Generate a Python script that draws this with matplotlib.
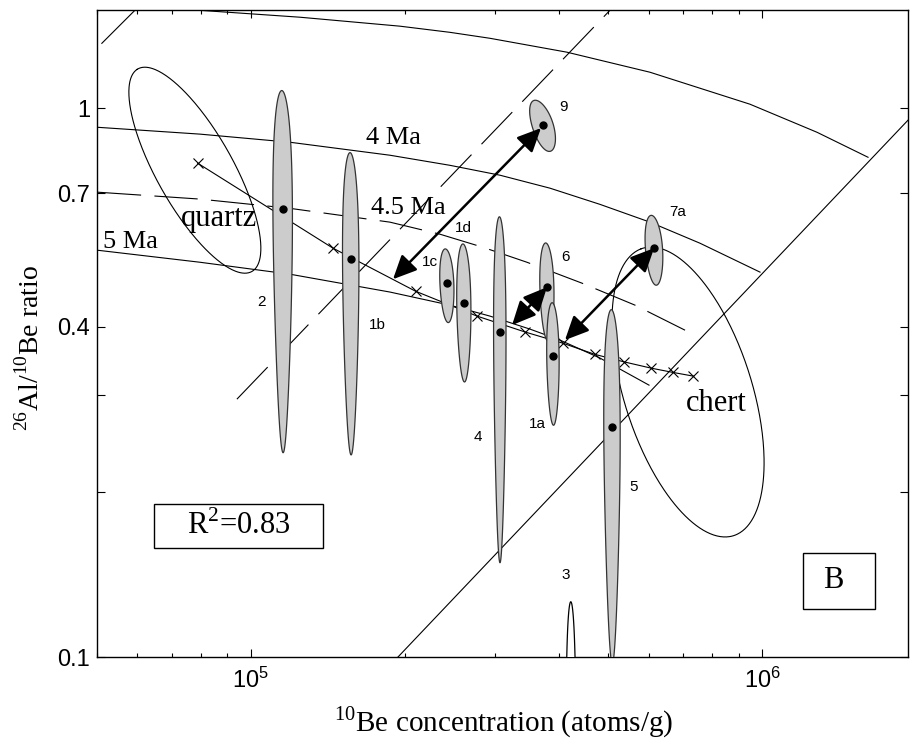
import matplotlib
matplotlib.use("Agg")
import matplotlib.pyplot as plt
import numpy as np
from matplotlib.patches import Rectangle
from matplotlib.ticker import FixedLocator, NullFormatter, FuncFormatter

plt.rcParams['font.family'] = ['Liberation Serif', 'DejaVu Serif']
plt.rcParams['mathtext.fontset'] = 'custom'
plt.rcParams['mathtext.rm'] = 'Liberation Serif'
plt.rcParams['mathtext.sf'] = 'Liberation Sans'

# --- samples: 10Be (atoms/g), 26Al/10Be ratio, relative 1-sigma errors
sample_names = ['2', '1b', '1c', '1d', '4', '6', '1a', '5', '9', '7a', '3']
sample_be = [1.155e5, 1.569e5, 2.419e5, 2.611e5, 3.07e5, 3.796e5, 3.90e5, 5.09e5, 3.727e5, 6.15e5, 4.23e5]
sample_ratio = [0.655, 0.531, 0.480, 0.441, 0.391, 0.472, 0.353, 0.263, 0.931, 0.556, 0.07]
sample_be_err = [0.044, 0.037, 0.032, 0.032, 0.028, 0.032, 0.028, 0.037, 0.058, 0.040, 0.022]
sample_al_err = [0.64, 0.56, 0.15, 0.28, 0.62, 0.20, 0.25, 0.63, 0.09, 0.14, 0.80]
# label positions (x, ratio) for each sample number
label_x = [1.051e5, 1.764e5, 2.240e5, 2.600e5, 2.782e5, 4.134e5, 3.643e5, 5.617e5, 4.08e5, 6.85e5, 4.134e5]
label_y = [0.443, 0.4025, 0.524, 0.604, 0.2516, 0.5353, 0.2658, 0.204, 1.004, 0.6465, 0.141]

# --- burial isochrons (4, 4.5, 5 Ma) and upper curve
top_x = [7.95e4, 1.247e5, 1.956e5, 2.451e5, 2.936e5, 4.153e5, 6.036e5, 9.47e5, 1.281e6, 1.612e6]
top_y = [1.508, 1.465, 1.411, 1.375, 1.341, 1.265, 1.163, 1.017, 0.904, 0.814]
ma4_x = [5.02e4, 7.95e4, 1.192e5, 1.871e5, 2.451e5, 3.071e5, 3.847e5, 4.82e5, 6.036e5, 7.56e5, 9.91e5]
ma4_y = [0.923, 0.897, 0.867, 0.821, 0.787, 0.755, 0.715, 0.668, 0.620, 0.5676, 0.5027]
ma45_x = [5.02e4, 7.95e4, 1.192e5, 1.871e5, 2.344e5, 2.844e5, 3.468e5, 4.443e5, 5.642e5, 7.07e5]
ma45_y = [0.703, 0.683, 0.657, 0.620, 0.5894, 0.558, 0.524, 0.480, 0.4377, 0.394]
ma5_x = [5.02e4, 7.95e4, 1.192e5, 1.871e5, 2.451e5, 2.936e5, 3.516e5, 4.024e5, 4.82e5, 6.01e5]
ma5_y = [0.551, 0.524, 0.4984, 0.4624, 0.4377, 0.418, 0.3958, 0.378, 0.3505, 0.3129]

# --- model line with x markers
model_x = [7.87e4, 1.447e5, 2.10e5, 2.77e5, 3.44e5, 4.08e5, 4.71e5, 5.37e5, 6.07e5, 6.70e5, 7.33e5]
model_y = [0.794, 0.556, 0.464, 0.418, 0.391, 0.373, 0.356, 0.345, 0.336, 0.330, 0.325]

# --- straight diagonal lines
diag_solid_x = [1.94e5, 1.93e6]
diag_solid_y = [0.1, 0.951]
diag_dash_x = [9.39e4, 5.04e5]
diag_dash_y = [0.295, 1.508]
diag_dash2_x = [5.11e4, 5.93e4]
diag_dash2_y = [1.313, 1.508]

# --- quartz / chert fields (log-space ellipse: centre, semi-axes in decades, angle)
quartz_field = (7.77e4, 0.771, 0.2157, 0.0733, 121.6)
chert_field = (7.165e5, 0.304, 0.2766, 0.1241, 109.4)

# --- paired samples (double arrows)
arrow_start = [(3.694e5, 0.920), (3.796e5, 0.472), (6.15e5, 0.556)]
arrow_end = [(1.897e5, 0.488), (3.243e5, 0.4025), (4.116e5, 0.378)]


def spindle(be, ratio, eb, ea, n=600):
    t = np.linspace(0, 2 * np.pi, n)
    be_v = be * (1 + eb * np.cos(t))
    al_v = be * ratio * (1 + ea * np.sin(t))
    return be_v, al_v / be_v


def log_ellipse(xc, yc, a, b, ang, n=400):
    t = np.linspace(0, 2 * np.pi, n)
    th = np.deg2rad(ang)
    u = a * np.cos(t) * np.cos(th) - b * np.sin(t) * np.sin(th)
    v = a * np.cos(t) * np.sin(th) + b * np.sin(t) * np.cos(th)
    return xc * 10 ** u, yc * 10 ** v


fig = plt.figure(figsize=(9.1, 7.46), dpi=100)
ax = fig.add_axes([97 / 910, 89 / 746, 811 / 910, 647 / 746])
ax.set_xscale('log')
ax.set_yscale('log')
ax.set_xlim(5.0e4, 1.93e6)
ax.set_ylim(0.1, 1.51)

lw = 0.8
ax.plot(top_x, top_y, color='k', lw=lw)
ax.plot(ma4_x, ma4_y, color='k', lw=lw)
ax.plot(ma45_x, ma45_y, color='k', lw=lw, linestyle=(0, (39, 12)))
ax.plot(ma5_x, ma5_y, color='k', lw=lw)
ax.plot(diag_solid_x, diag_solid_y, color='k', lw=lw)
ax.plot(diag_dash_x, diag_dash_y, color='k', lw=lw, linestyle=(0, (40, 13)))
ax.plot(diag_dash2_x, diag_dash2_y, color='k', lw=lw)
ax.plot(model_x, model_y, color='k', lw=lw, marker='x', ms=7, mew=0.8)

for field in (quartz_field, chert_field):
    ex, ey = log_ellipse(*field)
    ax.plot(ex, ey, color='k', lw=lw)

for i, name in enumerate(sample_names):
    sx, sy = spindle(sample_be[i], sample_ratio[i], sample_be_err[i], sample_al_err[i])
    face = 'white' if name == '3' else '#cccccc'
    edge = 'k' if name == '3' else '#333333'
    ax.fill(sx, sy, facecolor=face, edgecolor=edge, lw=0.9, zorder=3)
    ax.plot(sample_be[i], sample_ratio[i], 'o', color='k', ms=5, zorder=4)
    ax.text(label_x[i], label_y[i], name, family='Liberation Sans', fontsize=11,
            ha='center', va='center', zorder=5)

for s, e in zip(arrow_start, arrow_end):
    ax.annotate('', xy=e, xytext=s,
                arrowprops=dict(arrowstyle='<|-|>,head_length=0.6,head_width=0.28',
                                color='k', lw=1.8, mutation_scale=24,
                                shrinkA=0, shrinkB=0), zorder=6)

ax.text(8.66e4, 0.630, 'quartz', fontsize=22, ha='center', va='center')
ax.text(8.13e5, 0.290, 'chert', fontsize=22, ha='center', va='center')
ax.text(1.897e5, 0.882, '4 Ma', fontsize=19, ha='center', va='center')
ax.text(2.03e5, 0.657, '4.5 Ma', fontsize=19, ha='center', va='center')
ax.text(5.80e4, 0.570, '5 Ma', fontsize=19, ha='center', va='center')

ax.add_patch(Rectangle((0.0703, 0.1685), 0.2084, 0.068, transform=ax.transAxes,
                       facecolor='white', edgecolor='k', lw=1.0, zorder=7))
ax.text(0.1745, 0.2025, 'R$^2$=0.83', transform=ax.transAxes, fontsize=22,
        ha='center', va='center', zorder=8)
ax.add_patch(Rectangle((0.8705, 0.0742), 0.0888, 0.0865, transform=ax.transAxes,
                       facecolor='white', edgecolor='k', lw=1.0, zorder=7))
ax.text(0.9075, 0.1175, 'B', transform=ax.transAxes, fontsize=22,
        ha='center', va='center', zorder=8)

# ticks
ax.xaxis.set_major_locator(FixedLocator([1e5, 1e6]))
ax.xaxis.set_major_formatter(FuncFormatter(lambda v, p: r'$\mathsf{10^{%d}}$' % round(np.log10(v))))
ax.xaxis.set_minor_locator(FixedLocator([m * d for d in (1e4, 1e5, 1e6) for m in range(2, 10)]))
ax.xaxis.set_minor_formatter(NullFormatter())
ax.yaxis.set_major_locator(FixedLocator([0.1, 0.2, 0.3, 0.4, 0.7, 1.0]))
ax.yaxis.set_major_formatter(FuncFormatter(
    lambda v, p: {0.1: '0.1', 0.4: '0.4', 0.7: '0.7', 1.0: '1'}.get(round(v, 1), '')))
ax.yaxis.set_minor_locator(FixedLocator([]))
ax.tick_params(which='both', direction='in', top=True, right=True, width=0.8)
ax.tick_params(which='major', length=6)
ax.tick_params(which='minor', length=3)
ax.tick_params(axis='y', pad=5)
ax.tick_params(axis='x', pad=8)
for lab in ax.get_xticklabels() + ax.get_yticklabels():
    lab.set_family('Liberation Sans')
    lab.set_fontsize(17)
for sp in ax.spines.values():
    sp.set_linewidth(1.0)

ax.set_xlabel('$^{10}$Be concentration (atoms/g)', fontsize=21)
ax.xaxis.label.set_va('center')
ax.xaxis.set_label_coords(0.502, -0.1005)
ax.set_ylabel('$^{26}$Al/$^{10}$Be ratio', fontsize=20)
ax.yaxis.label.set_va('center')
ax.yaxis.set_label_coords(-0.082, 0.4776)

fig.savefig('out.png', dpi=100)
